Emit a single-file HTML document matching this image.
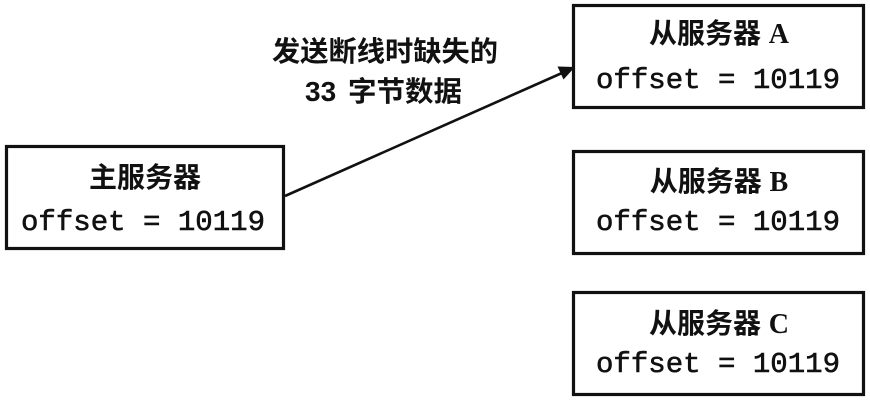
<!DOCTYPE html>
<html>
<head>
<meta charset="utf-8">
<style>
html,body{margin:0;padding:0;background:#fff;}
svg{display:block;}
.t{font-family:"Liberation Sans","Noto Sans CJK SC",sans-serif;font-weight:bold;font-size:28px;fill:#111;}
.m{font-family:"Liberation Mono",monospace;font-size:29px;fill:#111;stroke:#111;stroke-width:0.6px;}
.s{font-family:"Liberation Serif",serif;font-weight:bold;}
</style>
</head>
<body>
<svg width="870" height="401" viewBox="0 0 870 401" xmlns="http://www.w3.org/2000/svg">
  <rect x="0" y="0" width="870" height="401" fill="#fff"/>
  <g fill="none" stroke="#111" stroke-width="3.2">
    <rect x="6.5" y="146.5" width="277" height="102"/>
    <rect x="573.5" y="5.5" width="290" height="102"/>
    <rect x="573.5" y="151.5" width="290" height="102"/>
    <rect x="573.5" y="292.5" width="290" height="102"/>
  </g>
  <!-- arrow -->
  <line x1="285" y1="196" x2="562" y2="73" stroke="#111" stroke-width="2.6"/>
  <polygon points="575,67 563.5,79.5 557.5,66.5" fill="#111"/>

  <!-- label -->
  <text class="t" x="272" y="61" textLength="226" lengthAdjust="spacingAndGlyphs">发送断线时缺失的</text>
  <text class="t" x="305" y="101" font-family="Liberation Sans">33</text>
  <text class="t" x="348" y="101" textLength="114" lengthAdjust="spacingAndGlyphs">字节数据</text>

  <!-- main -->
  <text class="t" x="145" y="187" text-anchor="middle">主服务器</text>
  <text class="m" x="21" y="230" textLength="244" lengthAdjust="spacingAndGlyphs">offset = 10119</text>

  <!-- A -->
  <text class="t" x="719" y="43" text-anchor="middle">从服务器 <tspan class="s">A</tspan></text>
  <text class="m" x="596" y="88" textLength="244" lengthAdjust="spacingAndGlyphs">offset = 10119</text>

  <!-- B -->
  <text class="t" x="719" y="191" text-anchor="middle">从服务器 <tspan class="s">B</tspan></text>
  <text class="m" x="596" y="230" textLength="244" lengthAdjust="spacingAndGlyphs">offset = 10119</text>

  <!-- C -->
  <text class="t" x="719" y="333" text-anchor="middle">从服务器 <tspan class="s">C</tspan></text>
  <text class="m" x="596" y="372" textLength="244" lengthAdjust="spacingAndGlyphs">offset = 10119</text>
</svg>
</body>
</html>
